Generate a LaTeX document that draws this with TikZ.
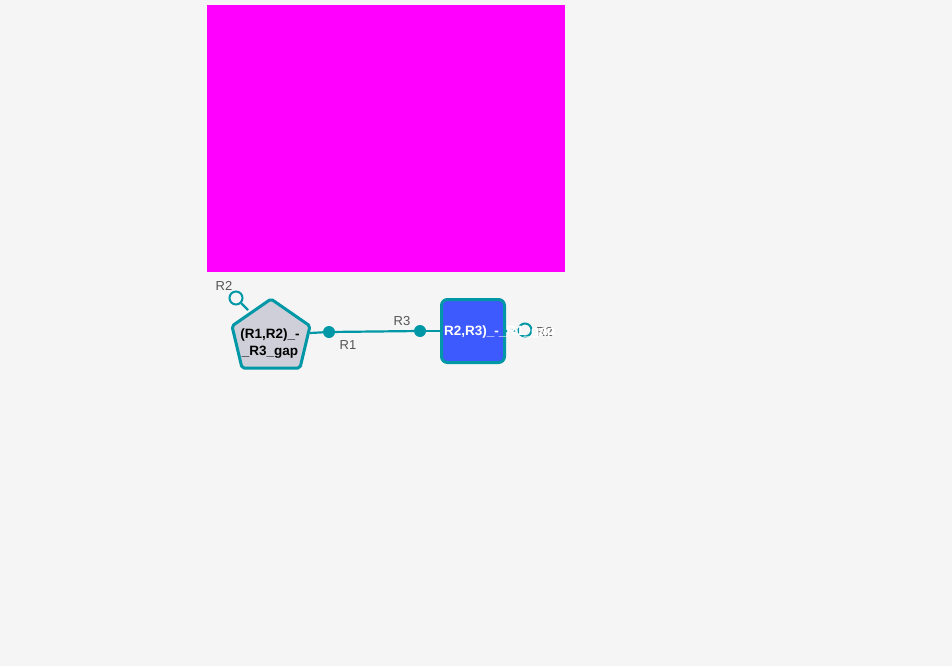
\documentclass[tikz,border=0pt]{standalone}
\usepackage{fontspec}
\setmainfont{Liberation Sans}
\definecolor{bg}{HTML}{F5F5F5}
\definecolor{tealc}{HTML}{0097A7}
\definecolor{pentfill}{HTML}{CFCFD9}
\definecolor{boxfill}{HTML}{3D5AFE}
\definecolor{lbl}{HTML}{555555}
\definecolor{magc}{HTML}{FF00FF}
\tikzset{
  portfull/.style={circle,fill=tealc,inner sep=0pt,minimum size=12pt},
  portopen/.style={circle,draw=tealc,line width=2pt,fill=bg,inner sep=0pt,minimum size=13pt},
  edge/.style={draw=tealc,line width=2.2pt},
  plabel/.style={text=lbl,font=\fontsize{13}{15}\selectfont,inner sep=0pt},
  nlabel/.style={font=\bfseries\fontsize{13.5}{17}\selectfont,inner sep=0pt,align=center}
}
\begin{document}
\begin{tikzpicture}[x=1pt,y=-1pt]
\useasboundingbox[fill=bg] (0,0) rectangle (952,666);
\fill[magc] (207,5) rectangle (565,272);
% pentagon
\draw[tealc,fill=pentfill,line width=3pt,line join=round,rounded corners=2pt]
  (271,299) -- (310,326) -- (300,368) -- (242,368) -- (232,326) -- cycle;
\coordinate (pR) at (310,333);
\coordinate (pTL) at (248,310);
\node[nlabel] (ptext) at (270,344) {(R1,R2)\_-\\\_R3\_gap};
% box
\node[draw=tealc,fill=boxfill,line width=3pt,rounded corners=6pt,minimum width=63pt,minimum height=63pt,inner sep=0pt] (box) at (473,331) {};
% ports
\node[portopen] (r2a) at (236,298) {};
\node[portfull] (r1) at (329,332) {};
\node[portfull] (r3) at (420,331) {};
\node[portopen] (r2b) at (525,330) {};
\draw[edge] (pTL) -- (r2a);
\draw[edge] (pR) -- (r1);
\draw[edge] (r1) -- (r3);
\draw[edge] (r3) -- (box.west);
\draw[edge,dash pattern=on 3pt off 3pt] (box.east) -- (r2b);
% labels
\node[plabel] (l2a) at (224,286) {R2};
\node[plabel] (l1) at (348,345) {R1};
\node[plabel] (l3) at (402,321) {R3};
\node[plabel,anchor=west] (l2b) at (536,332) {R2};
% white box text, overflowing the box
\node[nlabel,text=white,anchor=west] (btext) at (444,332) {R2,R3)\_-\_R1\_gap};
\end{tikzpicture}
\end{document}
